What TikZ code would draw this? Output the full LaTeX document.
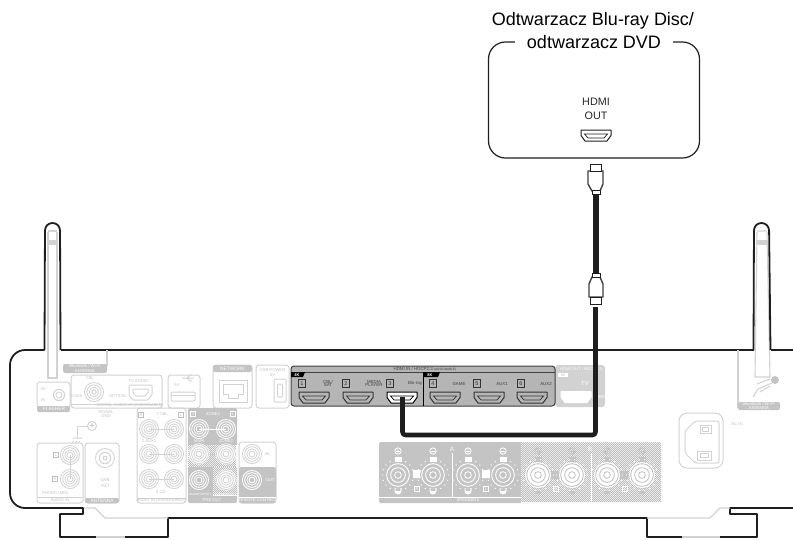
\documentclass[tikz,border=0pt]{standalone}
\usepackage{fontspec}
\setmainfont{Liberation Sans}
\setsansfont{Liberation Sans}

\definecolor{linegray}{HTML}{D2D2D2}
\definecolor{panelgray}{HTML}{C4C4C4}
\definecolor{hdmigray}{HTML}{B5B5B5}
\definecolor{textgray}{HTML}{BFBFBF}
\definecolor{ringgray}{HTML}{D4D4D4}
\definecolor{dithergray}{HTML}{BEBEBE}
\definecolor{inkblack}{HTML}{1E1E1E}

% checker cells, 2pt apart: x from, x to, y from, y to
\newcommand{\ditherarea}[4]{
  \pgfmathtruncatemacro{\xnext}{#1+2}
  \pgfmathtruncatemacro{\ynext}{#3+2}
  \fill[white] (#1,#3) rectangle (#2+2,#4+2);
  \fill[dithergray] \foreach \xd in {#1,\xnext,...,#2} { \foreach \yd in {#3,\ynext,...,#4} {
    (\xd,\yd) rectangle ++(1,1) (\xd+1,\yd+1) rectangle ++(1,1) } };
}

\tikzset{
  chassisline/.style={draw=inkblack, line width=1.8pt, line join=round},
  fadeline/.style={draw=linegray, line width=1.1pt},
  lightbox/.style={draw=linegray, line width=1pt, rounded corners=3pt},
  thinpart/.style={draw=linegray, line width=1pt},
  graytag/.style={fill=panelgray, rounded corners=2pt},
  graylabel/.style={text=textgray, font=\fontsize{4.2}{4.6}\selectfont, align=center, inner sep=0pt},
  whitelabel/.style={text=white, font=\fontsize{4.2}{4.6}\selectfont, align=center, inner sep=0pt},
  darklabel/.style={text=black!75, font=\fontsize{4.4}{4.8}\selectfont, align=center, inner sep=0pt},
  numbox/.style={draw=black!80, line width=0.6pt, minimum size=7.5pt, inner sep=0pt, font=\fontsize{5.5}{6}\selectfont, text=black!80},
  sidebox/.style={draw=textgray, line width=0.6pt, minimum size=5.5pt, inner sep=0pt, font=\fontsize{3.8}{4}\selectfont, text=textgray},
  playerbox/.style={draw=inkblack, line width=1.2pt, rounded corners=17pt, minimum width=211pt, minimum height=116pt, inner sep=0pt},
  cable/.style={draw=inkblack, line width=4.6pt, line join=round, rounded corners=3pt},
  plugtip/.style={draw=inkblack, fill=white, line width=1pt, minimum width=11pt, minimum height=7pt, inner sep=0pt},
  plugcollar/.style={draw=inkblack, fill=white, line width=0.9pt, minimum width=8pt, minimum height=4pt, inner sep=0pt},
  pics/ringset/.style 2 args={code={
    \fill[color=#1, even odd rule] \foreach \r in {#2} { (0,0) circle (\r) (0,0) circle (\r-0.9) };
  }},
  pics/rcajack/.style={code={
    \pic {ringset={#1}{3.4,5.6,7.8,10}};
  }},
  pics/hdmisocket/.style 2 args={code={
    \draw[draw=#1, fill=#2, line width=1pt, line join=round] (-15,-5.5) -- (15,-5.5) -- (15,0) -- (11,5.5) -- (-11,5.5) -- (-15,0) -- cycle;
    \draw[draw=#1, line width=0.7pt] (-11.5,-1.5) -- (11.5,-1.5) -- (8,2.5) -- (-8,2.5) -- cycle;
  }},
  pics/speakerpost/.style 2 args={code={
    \fill[color=#1] (-3.5,-18.5) rectangle (3.5,-13);
    \fill[color=#1] (-3.5,13) rectangle (3.5,16) (0,16) circle (3.5);
    \pic at (0,-24) {ringset={#1}{3.6}};
    \fill[color=#1] (-2,-24.4) rectangle (2,-23.6);
    \fill[white] \foreach \a in {0,20,...,340} { (\a:15.5) circle (0.7) };
    \fill[color=#2] (0,0) circle (13);
    \pic {ringset={#1}{3.8,7.8,11.8}};
  }},
}

\begin{document}
\begin{tikzpicture}[x=1pt, y=-1pt, font=\sffamily]
  \useasboundingbox (0,0) rectangle (793,539);

  % ============================================================
  % Disc player
  % ============================================================
  \node[playerbox] (player) at (594,100) {};
  \node[font=\fontsize{18}{20}\selectfont, inner sep=0pt] (titletop) at (593,21) {Odtwarzacz Blu-ray Disc/};
  \node[fill=white, font=\fontsize{18}{20}\selectfont, minimum width=158pt, inner sep=1pt] (titlelow) at (594,42) {odtwarzacz DVD};
  \node[font=\fontsize{10.8}{12}\selectfont, inner sep=0pt, text=black!85] (hdmilabel) at (596,101.5) {HDMI};
  \node[font=\fontsize{10.8}{12}\selectfont, inner sep=0pt, text=black!85] (outlabel) at (596,116) {OUT};
  \pic at (596,135.5) {hdmisocket={inkblack}{white}};

  % ============================================================
  % Chassis outline and antennas
  % ============================================================
  \draw[chassisline, rounded corners=15pt] (44.5,350) -- (10,350) -- (10,508) [sharp corners] -- (83,508) -- (83,514) -- (60,514) -- (60,537) -- (96,537);
  \draw[chassisline] (125,537) -- (168,537) -- (168,518) -- (647,518) -- (647,537) -- (682,537);
  \draw[chassisline] (720,537) -- (757,537) -- (757,514) -- (730,514) -- (730,508) -- (793,508);
  \draw[fadeline] (96,537) -- (125,537);
  \draw[fadeline] (682,537) -- (720,537);
  \draw[fadeline] (84,508) -- (95,508) -- (105,518) -- (168,518);
  \draw[fadeline] (647,518) -- (710,518) -- (720,508) -- (730,508);

  % Left antenna
  \fill[linegray] (47,240) rectangle (58,245);
  \draw[fadeline] (48,231) -- (57,231) (48,232) -- (48,378) -- (57,378) -- (57,232);
  \draw[chassisline, rounded corners=7.5pt] (44.5,350) -- (45,223) -- (60,223) -- (60.5,350);
  \draw[chassisline] (60.5,350) -- (680,350);

  % Right antenna
  \fill[linegray] (756,240) rectangle (768,245);
  \draw[fadeline] (757,231) -- (767,231) (757,232) -- (755,377) -- (770,377) -- (767,232);
  \draw[chassisline] (680,350) -- (753.5,350);
  \draw[chassisline, rounded corners=7.5pt] (753.5,350) -- (754,223) -- (769,223) -- (770.5,350);
  \draw[chassisline] (770.5,350) -- (793,350);

  % ============================================================
  % Antenna tags, left jacks
  % ============================================================
  \draw[fadeline] (107,350) -- (107,366);
  \fill[graytag] (63,364) rectangle (107,373);
  \node[whitelabel] (btleft) at (85,368.5) {Bluetooth / Wi-Fi\\[-0.5pt]ANTENNA};
  \draw[fadeline] (738,350) -- (738,408);
  \fill[graytag] (738,402) rectangle (780,410);
  \node[whitelabel] (btright) at (759,406) {Bluetooth / Wi-Fi\\[-0.5pt]ANTENNA};
  \fill[panelgray] (775,380) circle (4);
  \draw[fadeline] (772,383) -- (758,389) -- (753,397) (770,379) -- (757,384) (760,392) -- (770,386);

  \foreach \xa/\ya/\xb/\yb in {37/382/70/408, 71/375/162/408, 168/375/200/408, 213/365/252/408, 256/365/289/408, 37/443/83/503, 85/443/119/503, 137/408/186/503}
    \draw[lightbox] (\xa,\ya) rectangle (\xb,\yb);

  % FLASHER, network, antenna tags
  \fill[graytag] (37,406) rectangle (70,412);
  \fill[graytag] (213,365) rectangle (252,372);
  \fill[graytag] (85,498) rectangle (119,503);
  \foreach \x/\y/\t [count=\i] in {54/409/FLASHER, 232.5/368.5/NETWORK, 102/500.5/ANTENNA}
    \node[whitelabel, font=\fontsize{4.8}{5}\selectfont] (tag\i) at (\x,\y) {\t};

  \pic at (59,395) {ringset={ringgray}{3.5,6.2}};
  \pic at (94,392) {ringset={ringgray}{2.8,5.2,7.6,10}};
  \pic at (105,458) {ringset={ringgray}{2.4,6.2,10}};
  \draw[thinpart, rounded corners=1pt] (129,385) -- (152,385) -- (152,395) -- (148,400) -- (133,400) -- (129,395) -- cycle;
  \draw[thinpart] (133,389) -- (148,389) -- (148,393) -- (145,396) -- (136,396) -- (133,393) -- cycle;
  \draw[thinpart, rounded corners=1pt] (171,392) rectangle (195,401);
  \draw[thinpart] (171,395.5) -- (195,395.5);
  \draw[thinpart] (182,378) -- (194,378) (187,378) -- (190,375) -- (192,375) (187,378) -- (190,381) -- (192,381);
  \draw[thinpart] (219,380) rectangle (247,402);
  \draw[thinpart] (223,384) -- (243,384) -- (243,394) -- (238,394) -- (238,398) -- (228,398) -- (228,394) -- (223,394) -- cycle;
  \draw[thinpart, rounded corners=1pt] (274,379) rectangle (286,402);
  \draw[thinpart, rounded corners=1pt] (277.5,384) rectangle (282.5,397);

  % Ground screw
  \draw[thinpart] (77,438) -- (77,426) -- (87,426);
  \draw[thinpart] (73,438) -- (82,438) (74,441) -- (72,443) (77,441) -- (75,443) (80,441) -- (78,443);
  \node[circle, draw=linegray, line width=1pt, minimum size=9pt, inner sep=0pt, font=\fontsize{8}{8}\bfseries\selectfont, text=textgray] (gndscrew) at (92,426) {+};

  % Plain jacks
  \draw[thinpart] (70,455) -- (70,479) (149,429) -- (174,429) (149,454) -- (174,454) (149,479) -- (174,479);
  \foreach \x/\y in {70/455, 70/479, 149/429, 174/429, 149/454, 174/454, 149/479, 174/479}
    \pic at (\x,\y) {rcajack={ringgray}};

  \draw[thinpart] (37,497) -- (83,497) (137,498) -- (186,498) (71,404) -- (162,404);

  % Pre out and remote blocks
  \fill[graytag] (188,408) rectangle (237,503);
  \ditherarea{188}{235}{445}{465}
  \ditherarea{213}{235}{467}{494}
  \draw[draw=white, line width=1pt] (199,429) -- (226,429);
  \draw[draw=panelgray, line width=1pt] (199,454) -- (226,454);
  \foreach \x/\y in {199/429, 226/429, 199/480}
    \pic at (\x,\y) {rcajack={white}};
  \foreach \x/\y in {199/454, 226/454, 226/480} {
    \fill[white] (\x,\y) circle (10.6);
    \pic at (\x,\y) {rcajack={ringgray}};
  }
  \draw[lightbox] (239,442) rectangle (276,503);
  \fill[graytag] (239,467) rectangle (276,503);
  \draw[white, line width=0.5pt] (239,497) -- (276,497);
  \pic at (252,454) {rcajack={ringgray}};
  \pic at (252,480) {rcajack={white}};

  % Side letters
  \foreach \x/\y/\t [count=\i] in {56/455/L, 55/479/R, 141/415/R, 181/415/L}
    \node[sidebox] (side\i) at (\x,\y) {\t};
  \foreach \x/\y/\t [count=\i] in {193/414/R, 233/414/L}
    \node[sidebox, draw=white, text=white] (preside\i) at (\x,\y) {\t};

  % Gray labels
  \foreach \x/\y/\t [count=\i] in {43/389/IN, 43/400/IN, 90/378/CBL/SAT, 76.5/396/COAX, 118/396/OPTICAL, 138.5/381/TV AUDIO, 130/405.5/DIGITAL AUDIO IN (ASSIGNABLE), 106/412/SIGNAL, 106/416.5/GND, 177/385.5/5V/1A, 272.5/370/USB POWER, 272.5/375/5V/1.5A, 55/493/PHONO (MM), 60/500.5/AUDIO IN, 105/480/DAB/FM, 105/486/75$\Omega$, 162/414/1 CBL/SAT, 149/441/2 AUX1, 161/492/3 CD, 161/500.5/AUDIO IN (ASSIGNABLE), 267/454/IN, 737/424/AC IN}
    \node[graylabel] (lbl\i) at (\x,\y) {\t};
  \foreach \x/\y/\t [count=\i] in {213/414/ZONE2, 199/441.5/MAIN, 226/441.5/ZONE2, 212/500.5/PRE OUT, 270/480/OUT, 257.5/500.5/REMOTE CONTROL}
    \node[whitelabel] (prelbl\i) at (\x,\y) {\t};
  \foreach \x/\t [count=\i] in {200.5/SUBWOOFER 1, 225.5/SUBWOOFER 2}
    \node[whitelabel, font=\fontsize{3}{3.2}\selectfont] (sublbl\i) at (\x,494) {\t};

  % ============================================================
  % Speaker block
  % ============================================================
  \fill[graytag] (379,442) rectangle (662,503);
  \ditherarea{521}{660}{442}{501}
  \draw[white, line width=1pt] (379,497) -- (521,497) (452,453) -- (452,497) (591,453) -- (591,501);
  \fill[white] (413,470) rectangle (421,478) (482,470) rectangle (490,478);
  \fill[panelgray] (551,471) rectangle (559,479) (620,471) rectangle (628,479);
  \foreach \x in {398, 433, 468, 503}
    \pic at (\x,475) {speakerpost={white}{panelgray}};
  \foreach \x in {538, 572, 607, 642}
    \pic at (\x,475) {speakerpost={panelgray}{white}};
  \fill[white] (397.6,449) rectangle (398.4,453) (467.6,449) rectangle (468.4,453);
  \fill[panelgray] (537.6,449) rectangle (538.4,453) (606.6,449) rectangle (607.4,453);
  \foreach \x/\y/\t [count=\i] in {417/489/R, 486/489/L, 556/489/R, 625/489/L}
    \node[sidebox, draw=white, text=white] (spk\i) at (\x,\y) {\t};
  \node[whitelabel, font=\fontsize{6.5}{7}\selectfont] (speakera) at (452,449) {A};
  \node[whitelabel, font=\fontsize{6.5}{7}\selectfont] (speakerb) at (590,449) {B};
  \node[whitelabel] (speakers) at (468,500.5) {SPEAKERS};

  % ============================================================
  % Mains inlet
  % ============================================================
  \draw[lightbox, rounded corners=8pt] (679,413) rectangle (723,468);
  \draw[thinpart, rounded corners=2pt] (695,421) -- (719,421) -- (719,463) -- (695,463) -- (685,453) -- (685,431) -- cycle;
  \foreach \xa/\ya/\yb in {700/425/433, 697/451/460}
    \draw[thinpart] (\xa,\ya) rectangle (711,\yb);
  \draw[thinpart] (702.5,427.5) rectangle (708.5,431);
  \draw[thinpart] (700,453.5) rectangle (708.5,457.5);

  % ============================================================
  % HDMI input strip
  % ============================================================
  \fill[linegray, rounded corners=3pt] (555,365) rectangle (605,407);
  \node[whitelabel] (outhead) at (581,369) {HDMI OUT / HDCP2.3};
  \fill[white] (558,373) rectangle (568,377);
  \node[graylabel, font=\fontsize{3.5}{4}\selectfont] (outfourk) at (563,375) {8K};
  \node[whitelabel, font=\fontsize{6}{7}\selectfont] (outtv) at (585,383) {TV};
  \node[whitelabel] (outarc) at (602,397) {ARC};
  \pic at (576,397) {hdmisocket={white}{white}};

  \draw[draw=black!75, fill=hdmigray, line width=1pt, rounded corners=3pt] (291,366) rectangle (555,406);
  \draw[draw=black!75, line width=0.6pt] (291,372) -- (555,372);
  \draw[draw=black, line width=0.9pt] (423,372) -- (423,406);
  \fill[black] (291,372) -- (305,372) -- (303,377) -- (291,377) -- cycle;
  \fill[black] (423,372) -- (440,372) -- (438,377) -- (423,377) -- cycle;
  \node[whitelabel, font=\fontsize{4}{4}\bfseries\selectfont] (fourka) at (297,374.7) {4K};
  \node[whitelabel, font=\fontsize{4}{4}\bfseries\selectfont] (fourkb) at (430,374.7) {8K};
  \node[darklabel] (hdmihead) at (425,369.2) {HDMI IN / HDCP2.3 \fontsize{3.2}{4}\selectfont(ASSIGNABLE)};

  \foreach \x/\n in {302/1, 346/2, 390/3, 433/4, 477/5, 521/6}
    \node[numbox] (num\n) at (\x,383.5) {\n};
  \foreach \x/\t [count=\i] in {328/{CBL/\\[-1pt]SAT}, 374/{MEDIA\\[-1pt]PLAYER}, 415/{Blu-ray}, 459/GAME, 502/AUX1, 546/AUX2}
    \node[darklabel] (inlabel\i) at (\x,383.5) {\t};
  \foreach \x in {314, 358, 445, 489, 532}
    \pic at (\x,397.5) {hdmisocket={black!80}{hdmigray}};
  \pic at (402,397.5) {hdmisocket={black}{white}};
  \coordinate (portin) at (402.5,397);

  % ============================================================
  % HDMI cable
  % ============================================================
  \draw[draw=black!75, fill=white, line width=1.4pt] (588,171) -- (603,171) -- (603,184) -- (600,191) -- (592,191) -- (588,184) -- cycle;
  \node[plugtip] (tiptop) at (596,167.5) {};
  \node[plugcollar] (collartop) at (596,192) {};
  \draw[draw=black!75, fill=white, line width=1.4pt] (589,297) -- (603,297) -- (603,284) -- (600,277) -- (592,277) -- (589,284) -- cycle;
  \node[plugtip] (tiplow) at (596,300.5) {};
  \node[plugcollar] (collarlow) at (596,275.5) {};
  \draw[draw=inkblack, line width=5.4pt] (collartop.south) -- (collarlow.north);

  \coordinate (cablefree) at (595.5,307);
  \coordinate (cablebend) at (402.5,435);
  \draw[cable] (cablefree) |- (cablebend) -- (portin);

\end{tikzpicture}
\end{document}
